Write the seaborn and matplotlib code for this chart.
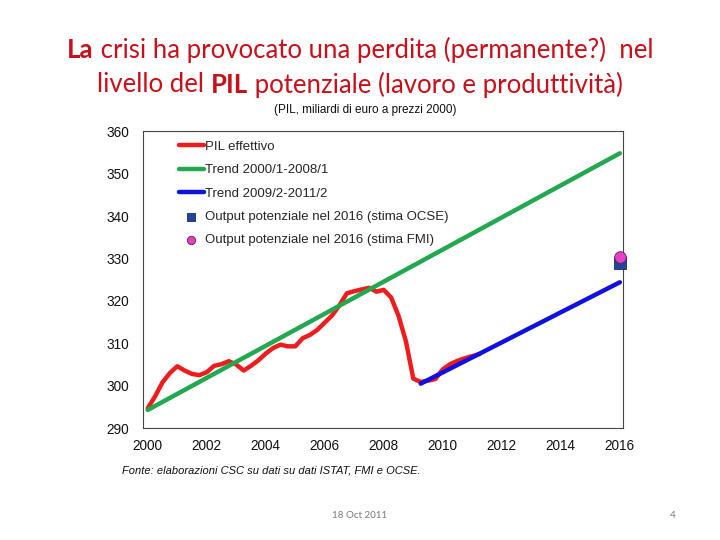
import matplotlib
matplotlib.use("Agg")
import matplotlib.pyplot as plt
import pandas as pd
import seaborn as sns

# PIL effettivo, quarterly (2000Q1 - 2011Q2), miliardi di euro a prezzi 2000
pil_time = [2000 + i / 4 for i in range(46)]
pil_values = [
    294.7, 297.5, 300.8, 303.0, 304.6, 303.6, 302.8, 302.5,
    303.2, 304.7, 305.1, 305.8, 305.0, 303.6, 304.7, 306.0,
    307.6, 308.9, 309.7, 309.3, 309.3, 311.2, 312.0, 313.2,
    314.9, 316.6, 319.0, 321.8, 322.3, 322.7, 323.1, 322.2,
    322.6, 320.8, 316.5, 310.5, 301.7, 300.9, 301.2, 301.6,
    303.9, 305.1, 305.9, 306.5, 307.0, 307.5,
]
trend1_time = [2000.0, 2016.0]
trend1_values = [294.3, 354.8]
trend2_time = [2009.25, 2016.0]
trend2_values = [300.5, 324.4]
ocse_time = [2016.0]
ocse_value = [328.9]
fmi_time = [2016.0]
fmi_value = [330.3]

x_ticks = [2000, 2002, 2004, 2006, 2008, 2010, 2012, 2014, 2016]
y_ticks = [290, 300, 310, 320, 330, 340, 350, 360]

# title pieces: (text, bold)
title_line1 = [("La", True), (" crisi ha provocato una perdita (permanente?)  nel", False)]
title_line2 = [("livello del ", False), ("PIL", True), (" potenziale (lavoro e produttività)", False)]

RED = "#ee1c1c"
GREEN = "#22a84e"
BLUE = "#1010e0"
NAVY = "#24439a"
MAGENTA = "#e63fc8"
TITLE_RED = "#c8101a"

sns.set_style("white")
plt.rcParams["font.family"] = ["Liberation Sans", "DejaVu Sans"]

fig = plt.figure(figsize=(7.2, 5.4), dpi=100)
ax = fig.add_axes([0.199, 0.207, 0.666, 0.550])

sns.lineplot(x=pil_time, y=pil_values, ax=ax, color=RED, linewidth=3.2,
             label="PIL effettivo", solid_capstyle="round")
sns.lineplot(x=trend1_time, y=trend1_values, ax=ax, color=GREEN, linewidth=3.2,
             label="Trend 2000/1-2008/1")
sns.lineplot(x=trend2_time, y=trend2_values, ax=ax, color=BLUE, linewidth=3.2,
             label="Trend 2009/2-2011/2")
sns.scatterplot(x=ocse_time, y=ocse_value, ax=ax, marker="s", s=70, color=NAVY,
                edgecolor="#1a2a6a", linewidth=0.6, clip_on=False, zorder=5,
                label="Output potenziale nel 2016 (stima OCSE)")
sns.scatterplot(x=fmi_time, y=fmi_value, ax=ax, marker="o", s=70, color=MAGENTA,
                edgecolor="#552255", linewidth=0.6, clip_on=False, zorder=6,
                label="Output potenziale nel 2016 (stima FMI)")

ax.set_xlim(1999.85, 2016.1)
ax.set_ylim(290, 360)
ax.set_xticks(x_ticks)
ax.set_yticks(y_ticks)
ax.tick_params(axis="both", length=0, labelsize=9.8, colors="#111111")
ax.tick_params(axis="y", pad=10)
ax.tick_params(axis="x", pad=8)
ax.set_xlabel("")
ax.set_ylabel("")
for sp in ax.spines.values():
    sp.set_color("#444444")
    sp.set_linewidth(0.8)

leg = ax.legend(loc="upper left", bbox_to_anchor=(0.055, 1.0), frameon=False,
                fontsize=9.5, handlelength=1.9, handletextpad=0.1,
                labelspacing=0.85, borderaxespad=0.3, markerscale=0.72)
for line in leg.get_lines():
    line.set_linewidth(3.2)


def centered_rich_line(pieces, y, size):
    # draw text pieces with mixed weight, centred as a whole on the figure
    renderer = fig.canvas.get_renderer()
    texts = []
    widths = []
    for txt, bold in pieces:
        t = fig.text(0, y, txt, fontsize=size, color=TITLE_RED, va="center",
                     fontweight="bold" if bold else "normal",
                     family=["Lato", "DejaVu Sans"])
        widths.append(t.get_window_extent(renderer).width)
        texts.append(t)
    total = sum(widths)
    fig_w = fig.get_figwidth() * fig.dpi
    x = (fig_w - total) / 2
    for t, w in zip(texts, widths):
        t.set_x(x / fig_w)
        x += w


centered_rich_line(title_line1, 1 - 50 / 540, 18.5)
centered_rich_line(title_line2, 1 - 85 / 540, 18.5)

fig.text(0.507, 0.796, "(PIL, miliardi di euro a prezzi 2000)",
         ha="center", va="center", fontsize=8.5, color="#111111")
fig.text(0.169, 0.129, "Fonte: elaborazioni CSC su dati su dati ISTAT, FMI e OCSE.",
         ha="left", va="center", fontsize=8, style="italic", color="#111111")
fig.text(0.5, 0.046, "18 Oct 2011", ha="center", va="center", fontsize=7,
         color="#777777", family=["Lato", "DejaVu Sans"])
fig.text(0.935, 0.046, "4", ha="center", va="center", fontsize=7,
         color="#777777", family=["Lato", "DejaVu Sans"])

fig.savefig("out.png", dpi=100)
